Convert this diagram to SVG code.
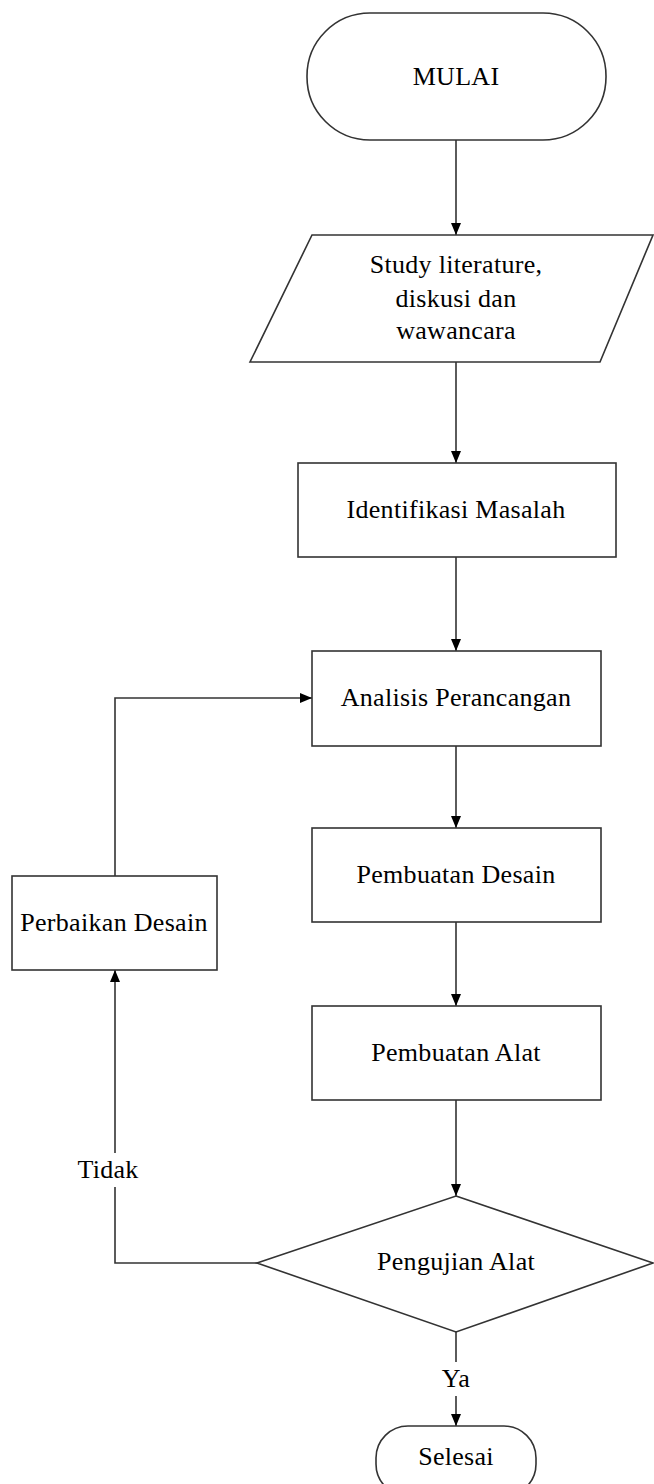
<svg xmlns="http://www.w3.org/2000/svg" width="654" height="1484" viewBox="0 0 654 1484">
<style>
.shape{fill:#fff;stroke:#333;stroke-width:1.6}
.lbl{font-family:"Liberation Serif","Times New Roman",serif;font-size:26px;letter-spacing:0.3px;fill:#000;text-anchor:middle}
.conn{fill:none;stroke:#333;stroke-width:1.6}
</style>
<defs>
<marker id="arr" viewBox="0 0 12 10" refX="12" refY="5" markerWidth="12" markerHeight="10" markerUnits="userSpaceOnUse" orient="auto">
<path d="M0,0 L12,5 L0,10 z" fill="#000"/>
</marker>
</defs>
<rect width="654" height="1484" fill="#fff"/>
<g id="connectors">
<line class="conn" x1="456" y1="140" x2="456" y2="235" marker-end="url(#arr)"/>
<line class="conn" x1="456" y1="362" x2="456" y2="463" marker-end="url(#arr)"/>
<line class="conn" x1="456" y1="557" x2="456" y2="651" marker-end="url(#arr)"/>
<line class="conn" x1="456" y1="746" x2="456" y2="828" marker-end="url(#arr)"/>
<line class="conn" x1="456" y1="922" x2="456" y2="1006" marker-end="url(#arr)"/>
<line class="conn" x1="456" y1="1100" x2="456" y2="1196" marker-end="url(#arr)"/>
<polyline class="conn" points="115,876 115,698 312,698" marker-end="url(#arr)"/>
<polyline class="conn" points="257,1263 115,1263 115,1187"/>
<line class="conn" x1="115" y1="1153" x2="115" y2="970" marker-end="url(#arr)"/>
<line class="conn" x1="456" y1="1332" x2="456" y2="1362"/>
<line class="conn" x1="456" y1="1396" x2="456" y2="1426" marker-end="url(#arr)"/>
<text class="lbl" x="108" y="1178">Tidak</text>
<text class="lbl" x="456" y="1387">Ya</text>
</g>
<g id="mulai">
<rect class="shape" x="307" y="13" width="299" height="127" rx="63" ry="63"/>
<text class="lbl" x="456" y="85">MULAI</text>
</g>
<g id="study">
<polygon class="shape" points="312,235 653,235 600,362 250,362"/>
<text class="lbl" x="456" y="273">Study literature,</text>
<text class="lbl" x="456" y="307">diskusi dan</text>
<text class="lbl" x="456" y="339">wawancara</text>
</g>
<g id="identifikasi">
<rect class="shape" x="298" y="463" width="318" height="94"/>
<text class="lbl" x="456" y="518">Identifikasi Masalah</text>
</g>
<g id="analisis">
<rect class="shape" x="312" y="651" width="289" height="95"/>
<text class="lbl" x="456" y="706">Analisis Perancangan</text>
</g>
<g id="desain">
<rect class="shape" x="312" y="828" width="289" height="94"/>
<text class="lbl" x="456" y="883">Pembuatan Desain</text>
</g>
<g id="alat">
<rect class="shape" x="312" y="1006" width="289" height="94"/>
<text class="lbl" x="456" y="1061">Pembuatan Alat</text>
</g>
<g id="perbaikan">
<rect class="shape" x="12" y="876" width="205" height="94"/>
<text class="lbl" x="114" y="931">Perbaikan Desain</text>
</g>
<g id="pengujian">
<polygon class="shape" points="456,1196 653,1263 456,1332 257,1263"/>
<text class="lbl" x="456" y="1270">Pengujian Alat</text>
</g>
<g id="selesai">
<rect class="shape" x="376" y="1426" width="160" height="70" rx="32" ry="32"/>
<text class="lbl" x="456" y="1465">Selesai</text>
</g>
</svg>
